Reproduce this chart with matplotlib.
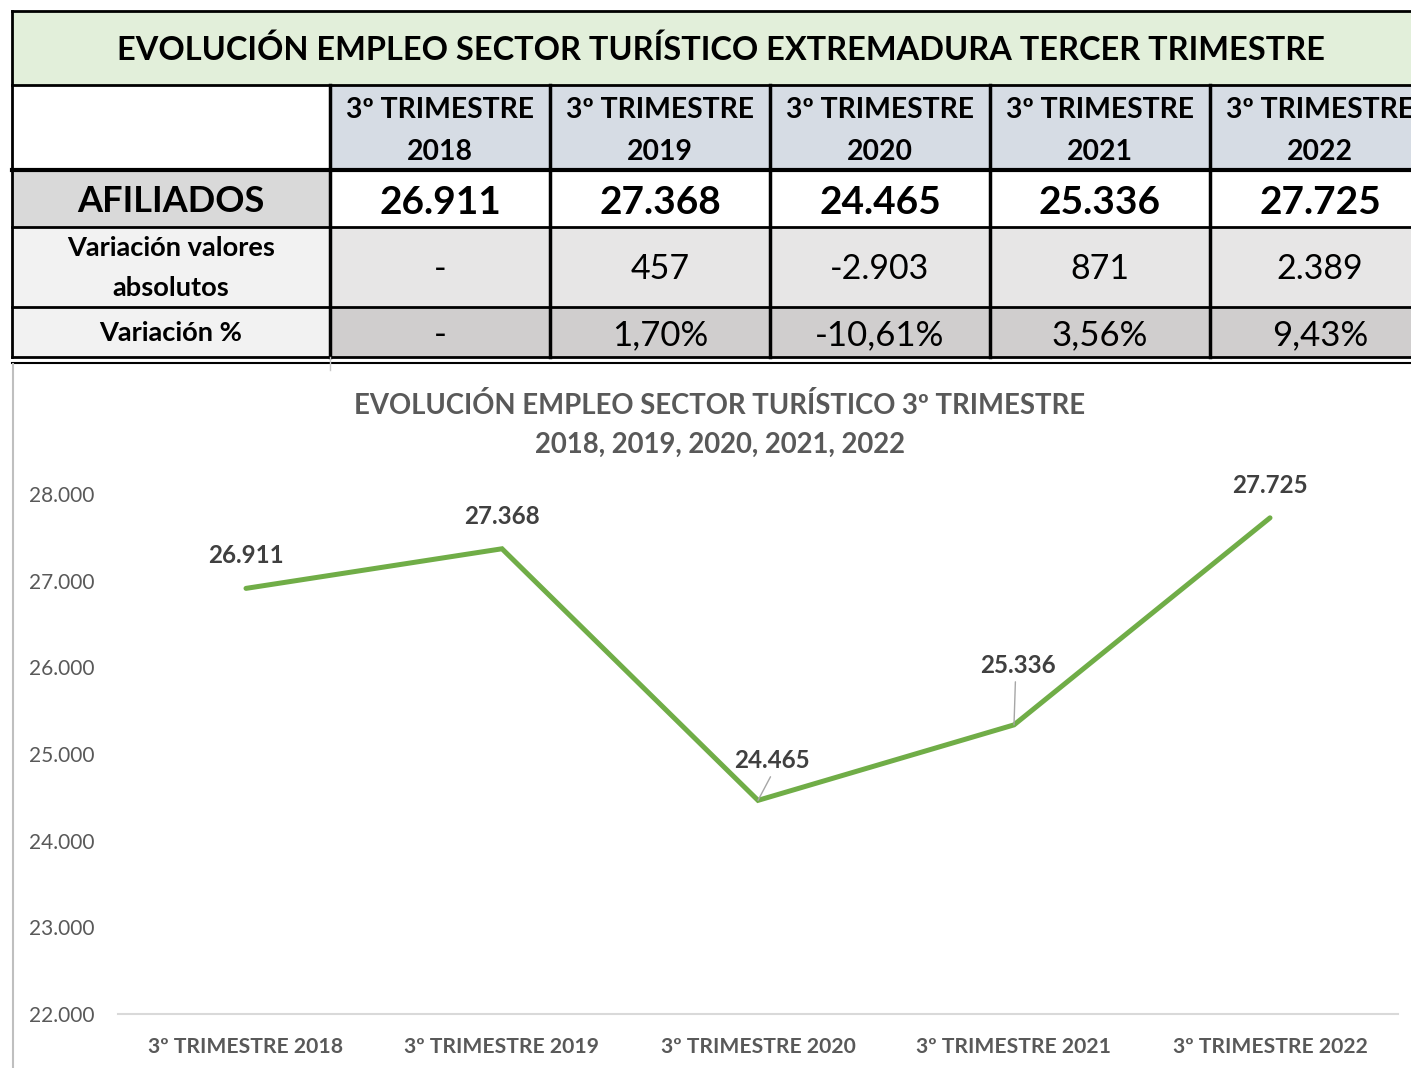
import matplotlib
matplotlib.use('Agg')
import matplotlib.pyplot as plt
from matplotlib.patches import Rectangle

plt.rcParams['font.family'] = ['Lato', 'DejaVu Sans']

# data
periodos = ['3º TRIMESTRE 2018', '3º TRIMESTRE 2019', '3º TRIMESTRE 2020',
            '3º TRIMESTRE 2021', '3º TRIMESTRE 2022']
afiliados = [26911, 27368, 24465, 25336, 27725]
var_abs = ['-', '457', '-2.903', '871', '2.389']
var_pct = ['-', '1,70%', '-10,61%', '3,56%', '9,43%']
titulo_tabla = 'EVOLUCIÓN EMPLEO SECTOR TURÍSTICO EXTREMADURA TERCER TRIMESTRE'
titulo_graf = 'EVOLUCIÓN EMPLEO SECTOR TURÍSTICO 3º TRIMESTRE\n2018, 2019, 2020, 2021, 2022'
yticks = [22000, 23000, 24000, 25000, 26000, 27000, 28000]


def miles(v):
    return f'{v:,}'.replace(',', '.')


W, H = 1411, 1068
fig = plt.figure(figsize=(W / 100, H / 100), dpi=100)

# background axes in pixel coordinates for the table
bg = fig.add_axes([0, 0, 1, 1])
bg.set_xlim(0, W)
bg.set_ylim(H, 0)
bg.axis('off')

cols = [12, 330, 550, 770, 990, 1210, 1430]
rows = [12, 85, 170, 227, 307, 357]


def cell(x0, x1, y0, y1, color):
    bg.add_patch(Rectangle((x0, y0), x1 - x0, y1 - y0, facecolor=color,
                           edgecolor='none', zorder=1))


# title row
cell(12, 1430, 12, 85, '#E2EFDA')
bg.text(721, 50, titulo_tabla, ha='center', va='center', fontsize=23.4,
        fontweight='bold', color='black', zorder=3)

# header row (last column is cut by the picture edge, as in the original)
cell(12, 330, 85, 170, 'white')
for i, p in enumerate(periodos):
    x0, x1 = cols[i + 1], cols[i + 2]
    cell(x0, x1, 85, 170, '#D6DCE4')
    trim, anio = p.rsplit(' ', 1)
    xc = (x0 + x1) / 2
    bg.text(xc, 110, trim, ha='center', va='center', fontsize=20.4,
            fontweight='bold', zorder=3)
    bg.text(xc, 152, anio, ha='center', va='center', fontsize=20.4,
            fontweight='bold', zorder=3)

# afiliados row
cell(12, 330, 170, 227, '#D9D9D9')
bg.text(171, 202, 'AFILIADOS', ha='center', va='center', fontsize=26,
        fontweight='bold', zorder=3)
for i, v in enumerate(afiliados):
    x0, x1 = cols[i + 1], cols[i + 2]
    cell(x0, x1, 170, 227, 'white')
    bg.text((x0 + x1) / 2, 202, miles(v), ha='center', va='center',
            fontsize=28, fontweight='bold', zorder=3)

# variacion absoluta
cell(12, 330, 227, 307, '#F2F2F2')
bg.text(171, 268, 'Variación valores\nabsolutos', ha='center', va='center',
        fontsize=19.6, fontweight='bold', linespacing=1.75, zorder=3)
for i, v in enumerate(var_abs):
    x0, x1 = cols[i + 1], cols[i + 2]
    cell(x0, x1, 227, 307, '#E7E6E6')
    bg.text((x0 + x1) / 2, 269, v, ha='center', va='center', fontsize=24.5,
            zorder=3)

# variacion %
cell(12, 330, 307, 357, '#F2F2F2')
bg.text(171, 333, 'Variación %', ha='center', va='center', fontsize=19.6,
        fontweight='bold', zorder=3)
for i, v in enumerate(var_pct):
    x0, x1 = cols[i + 1], cols[i + 2]
    cell(x0, x1, 307, 357, '#D0CECE')
    bg.text((x0 + x1) / 2, 335, v, ha='center', va='center', fontsize=25,
            zorder=3)

# grid lines of the table
bg.plot([12, W], [11, 11], color='black', lw=2, zorder=4)
for y in rows[1:]:
    lw = 3 if y == 170 else 2
    bg.plot([12, W], [y, y], color='black', lw=lw, zorder=4)
bg.plot([12, W], [363, 363], color='black', lw=1.5, zorder=4)
bg.plot([12, 12], [11, 357], color='black', lw=2, zorder=4)
for x in cols[1:-1]:
    bg.plot([x, x], [85, 357], color='black', lw=2.5, zorder=4)
bg.plot([330, 330], [357, 370], color='#C8C8C8', lw=1, zorder=4)
bg.plot([13, 13], [364, H], color='#BFBFBF', lw=1.5, zorder=4)

# chart
ax = fig.add_axes([118 / W, 1 - 1014 / H, 1280 / W, 520 / H])
x = list(range(len(periodos)))
ax.plot(x, afiliados, color='#70AD47', lw=3.6, solid_joinstyle='miter',
        solid_capstyle='round', zorder=3)
ax.set_xlim(-0.5, len(periodos) - 0.5)
ax.set_ylim(22000, 28000)
ax.set_yticks(yticks)
ax.set_yticklabels([miles(v) for v in yticks], fontsize=15, color='#595959')
ax.set_xticks(x)
ax.set_xticklabels(periodos, fontsize=15.2, fontweight='bold', color='#595959')
ax.tick_params(length=0)
ax.tick_params(axis='x', pad=16.5)
ax.tick_params(axis='y', pad=17)
for s in ['top', 'right', 'left']:
    ax.spines[s].set_visible(False)
ax.spines['bottom'].set_color('#D9D9D9')
ax.spines['bottom'].set_linewidth(1.5)
ax.patch.set_alpha(0)

# data labels (offsets in points)
offsets = [(0, 23.5), (0, 23), (10, 29), (3, 43), (0, 23.5)]
for i, v in enumerate(afiliados):
    dx, dy = offsets[i]
    ax.annotate(miles(v), (i, v), xytext=(dx, dy), textcoords='offset points',
                ha='center', va='center', fontsize=17.4, fontweight='bold',
                color='#404040', zorder=4)
# leader lines
for i, (dx, dy) in [(2, (9, 17)), (3, (1, 31))]:
    ax.annotate('', (i, afiliados[i]), xytext=(dx, dy),
                textcoords='offset points',
                arrowprops=dict(arrowstyle='-', color='#A6A6A6', lw=1,
                                shrinkA=0, shrinkB=0))

fig.text(720 / W, 1 - 425 / H, titulo_graf, ha='center', va='center',
         fontsize=19.8, fontweight='bold', color='#595959', linespacing=1.6)

fig.savefig('out.png', dpi=100)
